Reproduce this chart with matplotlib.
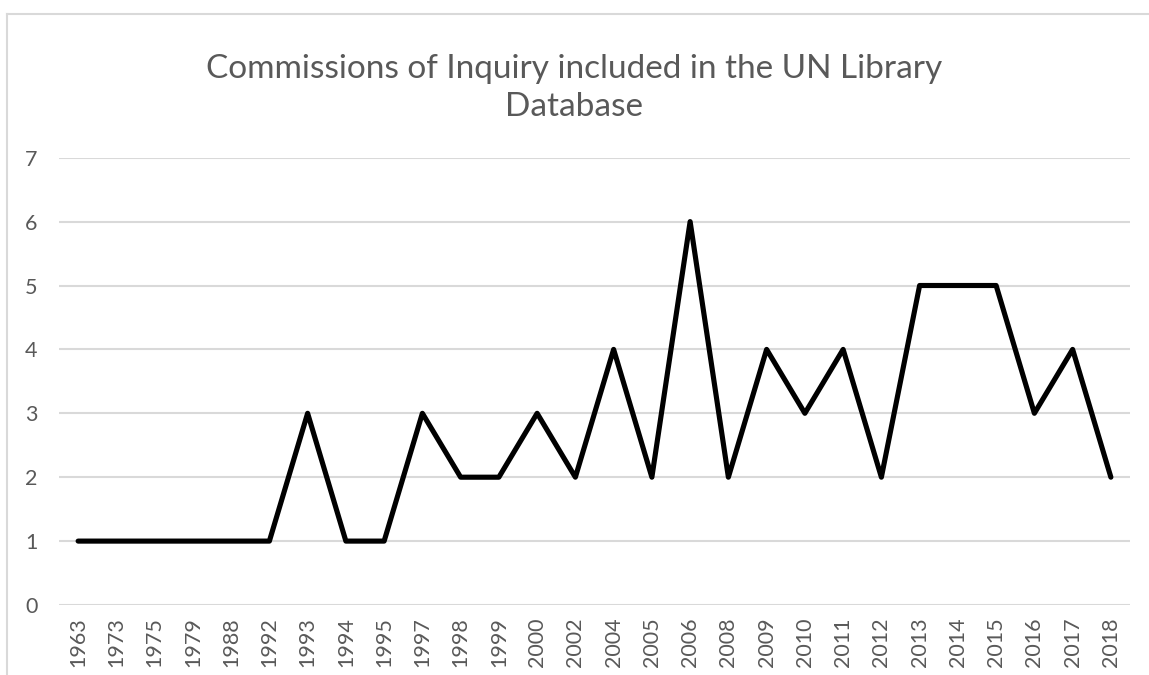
import numpy as np
import matplotlib

matplotlib.use("Agg")
import matplotlib.pyplot as plt
from matplotlib.lines import Line2D

# ---- data -------------------------------------------------------------------
YEARS = ["1963", "1973", "1975", "1979", "1988", "1992", "1993", "1994", "1995",
         "1997", "1998", "1999", "2000", "2002", "2004", "2005", "2006", "2008",
         "2009", "2010", "2011", "2012", "2013", "2014", "2015", "2016", "2017",
         "2018"]
COUNTS = [1, 1, 1, 1, 1, 1, 3, 1, 1, 3, 2, 2, 3, 2, 4, 2, 6, 2, 4, 3, 4, 2,
          5, 5, 5, 3, 4, 2]
TITLE = "Commissions of Inquiry included in the UN Library\nDatabase"

# ---- style ------------------------------------------------------------------
TEXT = "#595959"
GRID = "#d9d9d9"

plt.rcParams.update({
    "font.family": ["Lato", "DejaVu Sans"],
    "text.color": TEXT,
    "xtick.color": TEXT,
    "ytick.color": TEXT,
})

W, H = 1149, 675
fig = plt.figure(figsize=(W / 100, H / 100), dpi=100)

# plot area in pixel coordinates (left, right, top, bottom)
L, R, T, B = 59, 1130, 157.7, 605
ax = fig.add_axes([L / W, 1 - B / H, (R - L) / W, (B - T) / H])

x = np.arange(len(YEARS))
ax.plot(x, COUNTS, color="black", lw=3.7, solid_joinstyle="round",
        solid_capstyle="round", zorder=3)

ax.set_xlim(-0.5, len(YEARS) - 0.5)
ax.set_ylim(0, 7)
ax.set_yticks(range(0, 8))
ax.set_xticks(x)
ax.set_xticklabels(YEARS, rotation=90)
ax.tick_params(axis="both", length=0, labelsize=15.5)
ax.tick_params(axis="x", pad=9)
for lab in ax.get_yticklabels():
    lab.set_horizontalalignment("left")
ax.tick_params(axis="y", pad=24.5)

ax.yaxis.grid(True, color=GRID, lw=1.5)
ax.set_axisbelow(True)
for side in ("top", "right", "left", "bottom"):
    ax.spines[side].set_visible(False)

fig.text(574 / W, 1 - 88 / H, TITLE, ha="center", va="center",
         fontsize=24, color=TEXT, linespacing=1.32)

# chart border (the image cuts it off at the right and bottom)
fig.add_artist(Line2D([7 / W, 1.0], [1 - 14 / H, 1 - 14 / H], color=GRID,
                      lw=1.5, transform=fig.transFigure))
fig.add_artist(Line2D([7 / W, 7 / W], [1 - 14 / H, 0.0], color=GRID,
                      lw=1.5, transform=fig.transFigure))

fig.savefig("out.png", dpi=100, facecolor="white")
